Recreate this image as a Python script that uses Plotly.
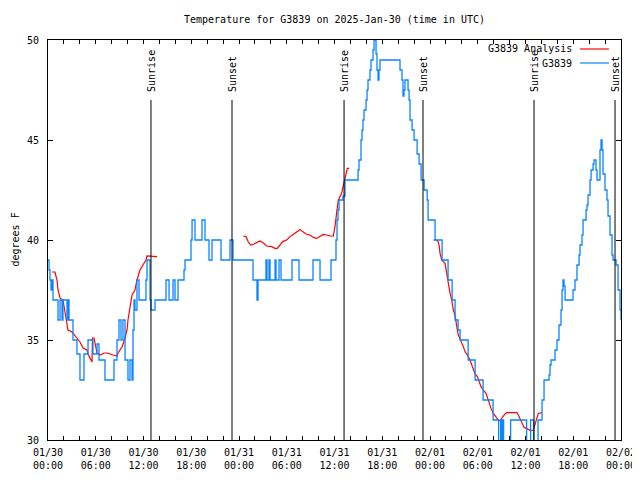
import plotly.graph_objects as go
import pandas as pd

BASE = pd.Timestamp("2025-01-30 00:00")

# Observations (hours since 2025-01-30 00:00 UTC, deg F)
OBS_HOURS = [0.00, 0.13, 0.25, 0.38, 0.50, 0.63, 1.26, 1.51, 1.76, 1.88, 2.39, 2.51, 2.64, 3.14, 3.64,
             4.02, 4.52, 5.03, 5.65, 6.16, 6.41, 7.16, 8.29, 8.67, 8.92, 9.17, 9.42, 9.68,
             10.05, 10.30, 10.56, 10.68, 10.81, 10.93, 11.18, 11.44, 12.31, 12.44, 12.82,
             12.94, 13.45, 14.83, 15.21, 15.71, 15.96, 16.34, 17.09, 17.22, 17.97, 18.10, 18.47, 19.35,
             19.73, 20.23, 20.61, 21.74, 22.87, 23.25, 25.76, 26.26, 26.39, 27.39, 27.52, 27.77, 27.90,
             28.53, 28.65, 29.03, 29.28, 30.66, 31.54, 33.30, 34.18, 35.56,
             36.19, 36.32, 36.44, 36.57, 37.07, 37.32, 38.96, 39.08, 39.33, 39.46, 39.58, 39.71, 39.96,
             40.09, 40.21, 40.46, 40.59, 40.84, 40.97, 41.22, 41.34, 41.47, 41.59, 41.72, 44.23, 44.48,
             44.61, 44.73, 44.86, 45.24, 45.37, 45.49, 45.75, 46.00, 46.38, 46.63, 46.88, 47.26, 47.64,
             47.76, 48.64, 49.52, 50.27, 50.78, 51.15, 51.53, 51.78, 52.79, 53.67, 54.67, 55.93, 56.62,
             56.88, 57.00, 57.13, 57.25, 58.13, 60.14, 60.64, 61.02, 61.58, 62.08, 62.33, 62.96, 63.08,
             63.21, 63.71, 63.96, 64.21, 64.46, 64.59, 64.71, 64.84, 64.97, 65.97, 66.22, 66.47, 66.73,
             66.85, 67.10, 67.23, 67.61, 67.73, 67.86, 68.11, 68.24, 68.49, 68.61, 68.86, 68.99, 69.36,
             69.49, 69.62, 69.74, 69.99, 70.24, 70.37, 70.62, 70.87, 71.00, 71.38, 71.63, 71.88, 72.00]
OBS_TEMPS = [39, 38.5, 38, 37.5, 38, 37, 36, 37, 36, 37, 36, 37, 36, 35, 34.3,
             33, 34.3, 35, 34.3, 34.8, 34, 33, 34, 35, 36, 35, 36, 34,
             33, 34, 33, 35.5, 37, 36.5, 38, 37, 38, 39, 37,
             36.5, 37, 38, 37, 38, 37, 38, 38.5, 39, 40, 41, 40, 41,
             40, 39, 40, 39, 40, 39, 38, 37, 38, 39, 38, 39, 38,
             39, 38, 39, 38, 39, 38, 39, 38, 39,
             40, 41, 41.5, 42, 42.2, 43, 43.5, 44, 45, 45.5, 46, 46.5, 47,
             47.5, 48, 48.5, 49, 49.5, 50, 49.3, 48.5, 48, 48.5, 49, 48.5, 48,
             47.2, 47.5, 48, 47.5, 47, 46, 45.5, 45, 44.3, 43.8, 43, 42.5, 42,
             41, 40, 39, 38, 37, 36, 35.5, 35, 34, 33, 32, 31, 29.5,
             31, 29.5, 31, 29.5, 31, 29.5, 31, 29.5, 31, 32, 33, 33.25, 33.75,
             34, 34.5, 35, 35.75, 36.5, 37.5, 38, 37.7, 37, 37.5, 38, 38.75, 39.25,
             39.75, 40.25, 41, 41.5, 41.75, 42.25, 43, 43.5, 43.8, 44, 43.5, 43, 44.5,
             45, 44.5, 43.3, 42.5, 42, 41.2, 40.25, 39.25, 39, 38.75, 37.5, 36.5, 36]

# Analysis, three runs
ANA1_HOURS = [0.50, 0.88, 1.13, 1.26, 1.51, 1.88, 2.01, 2.26, 2.51, 3.02, 3.39, 3.77, 4.02, 4.40, 4.90,
              5.03, 5.28, 5.53, 5.59, 5.78, 6.16, 6.53, 7.04, 7.41, 8.17, 8.67, 8.80, 9.30, 9.68, 9.93,
              10.05, 10.30, 10.56, 10.93, 11.18, 11.56, 11.94, 12.31, 12.44, 12.82, 13.70]
ANA1_TEMPS = [38.4, 38.4, 38.0, 37.5, 37.1, 37.0, 36.7, 36.1, 35.5, 35.4, 35.2, 35.0, 34.9, 34.6, 34.5,
              34.3, 34.1, 33.9, 35.1, 35.1, 34.35, 34.25, 34.35, 34.35, 34.25, 34.2, 34.35, 34.65, 35.1, 35.5,
              36.0, 36.6, 37.25, 37.5, 38.0, 38.5, 38.75, 39.0, 39.2, 39.2, 39.17]
ANA2_HOURS = [24.54, 24.88, 25.17, 25.47, 25.89, 26.23, 26.64, 26.98, 27.48, 28.11, 28.53, 28.81, 29.15,
              29.49, 29.99, 30.41, 30.82, 31.25, 31.67, 32.00, 32.42, 32.92, 33.34, 33.76, 34.18, 34.59,
              35.02, 35.44, 35.85, 36.06, 36.28, 36.48, 36.69, 36.90, 37.03, 37.20, 37.32, 37.45, 37.61, 37.86]
ANA2_TEMPS = [40.2, 40.17, 39.9, 39.75, 39.8, 39.87, 39.95, 39.87, 39.7, 39.67, 39.58, 39.58, 39.75,
              39.92, 40.0, 40.17, 40.28, 40.42, 40.53, 40.42, 40.3, 40.25, 40.13, 40.08, 40.17, 40.28,
              40.25, 40.2, 40.2, 40.67, 41.4, 42.0, 42.17, 42.33, 42.58, 42.9, 43.17, 43.4, 43.58, 43.58]
ANA3_HOURS = [48.42, 48.84, 49.04, 49.17, 49.26, 49.47, 49.89, 50.10, 50.30, 50.52, 50.73, 50.93, 51.14,
              51.27, 51.43, 51.56, 51.77, 51.98, 52.19, 52.40, 52.61, 52.81, 53.03, 53.24, 53.44, 53.66,
              53.95, 54.20, 54.41, 54.70, 55.04, 55.25, 55.46, 55.67, 55.96, 56.30, 56.58, 56.80, 57.14,
              57.43, 57.64, 58.90, 59.10, 59.40, 59.65, 59.82, 60.07, 60.36, 60.66, 60.99, 61.20, 61.42,
              61.62, 61.83, 62.04]
ANA3_TEMPS = [40.0, 40.0, 39.9, 39.67, 39.33, 39.0, 38.83, 38.33, 37.67, 37.33, 37.0, 36.5, 36.25,
              35.83, 35.5, 35.25, 35.08, 34.92, 34.67, 34.42, 34.25, 34.17, 34.0, 33.75, 33.5, 33.3,
              33.17, 32.92, 32.67, 32.5, 32.33, 32.08, 31.8, 31.58, 31.33, 31.17, 31.0, 30.97, 31.17,
              31.3, 31.37, 31.37, 31.25, 31.0, 30.8, 30.63, 30.58, 30.53, 30.47, 30.5, 30.83, 31.08,
              31.33, 31.37, 31.37]

SUN_HOURS = [12.94, 23.12, 37.20, 47.12, 61.07, 71.25]
SUN_LABELS = ["Sunrise", "Sunset", "Sunrise", "Sunset", "Sunrise", "Sunset"]

TICK_HOURS = list(range(0, 73, 2))
TICK_LABELS = {0: "01/30<br>00:00", 6: "01/30<br>06:00", 12: "01/30<br>12:00", 18: "01/30<br>18:00",
               24: "01/31<br>00:00", 30: "01/31<br>06:00", 36: "01/31<br>12:00", 42: "01/31<br>18:00",
               48: "02/01<br>00:00", 54: "02/01<br>06:00", 60: "02/01<br>12:00", 66: "02/01<br>18:00",
               72: "02/02<br>00:00"}
Y_TICKS = [30, 35, 40, 45, 50]

RED = "#ff0000"
BLUE = "#0a84ff"
FONT = "DejaVu Sans Mono"


def to_time(hours):
    return [BASE + pd.Timedelta(hours=h) for h in hours]


fig = go.Figure()

ana_x, ana_y = [], []
for hs, ts in [(ANA1_HOURS, ANA1_TEMPS), (ANA2_HOURS, ANA2_TEMPS), (ANA3_HOURS, ANA3_TEMPS)]:
    ana_x += to_time(hs) + [None]
    ana_y += ts + [None]

fig.add_trace(go.Scatter(x=ana_x, y=ana_y, mode="lines", name="G3839 Analysis",
                         line=dict(color=RED, width=1.2), connectgaps=False, showlegend=False))
fig.add_trace(go.Scatter(x=to_time(OBS_HOURS), y=OBS_TEMPS, mode="lines", name="G3839",
                         line=dict(color=BLUE, width=1.3, shape="hv"), showlegend=False))

shapes = []
annotations = []
for h, lab in zip(SUN_HOURS, SUN_LABELS):
    t = BASE + pd.Timedelta(hours=h)
    shapes.append(dict(type="line", xref="x", yref="y domain", x0=t, x1=t, y0=0, y1=0.85,
                       line=dict(color="black", width=1)))
    annotations.append(dict(x=t, y=0.85, xref="x", yref="y domain", text=lab, textangle=-90,
                            showarrow=False, xanchor="center", yanchor="bottom", yshift=6,
                            font=dict(family=FONT, size=10, color="black")))

# legend (gnuplot style: text then line sample)
for name, color, ypos in [("G3839 Analysis", RED, 0.9775), ("G3839", BLUE, 0.9425)]:
    annotations.append(dict(x=0.918, y=ypos, xref="paper", yref="paper", text=name, showarrow=False,
                            xanchor="right", yanchor="middle",
                            font=dict(family=FONT, size=10, color="black")))
    shapes.append(dict(type="line", xref="paper", yref="paper", x0=0.9284, x1=0.979, y0=ypos, y1=ypos,
                       line=dict(color=color, width=1.2)))

# y-axis title, kept fully inside the figure's left edge
annotations.append(dict(x=-0.0698, y=0.5, xref="paper", yref="paper", text="degrees F", textangle=-90,
                        showarrow=False, xanchor="left", yanchor="middle", borderpad=0,
                        font=dict(family=FONT, size=10, color="black")))

# The page places the figure 8 px from the top-left corner (default body margin),
# so the figure is 632x472 and the margins are set relative to that.
fig.update_layout(
    width=632, height=472,
    margin=dict(l=40, r=19, t=32, b=40, autoexpand=False),
    paper_bgcolor="white", plot_bgcolor="white",
    font=dict(family=FONT, size=10, color="black"),
    title=dict(text="Temperature for G3839 on 2025-Jan-30 (time in UTC)", x=0.5, xref="paper",
               xanchor="center", y=1 - 11 / 472, yanchor="middle", yref="container",
               font=dict(family=FONT, size=10, color="black")),
    shapes=shapes, annotations=annotations, showlegend=False,
)
fig.update_xaxes(type="date", range=[BASE, BASE + pd.Timedelta(hours=72)],
                 tickvals=to_time(TICK_HOURS),
                 ticktext=[TICK_LABELS.get(h, "") for h in TICK_HOURS],
                 ticks="inside", ticklen=4, tickcolor="black", showline=True, linecolor="black",
                 linewidth=1, mirror="ticks", showgrid=False, zeroline=False, ticklabelstandoff=3,
                 automargin=False, tickfont=dict(family=FONT, size=10, color="black"))
fig.update_yaxes(range=[30, 50], tickvals=Y_TICKS, ticks="inside", ticklen=5, tickcolor="black",
                 showline=True, linecolor="black", linewidth=1, mirror="ticks", showgrid=False,
                 zeroline=False, ticklabelstandoff=6, automargin=False,
                 tickfont=dict(family=FONT, size=10, color="black"))

fig.write_html("out.html")
